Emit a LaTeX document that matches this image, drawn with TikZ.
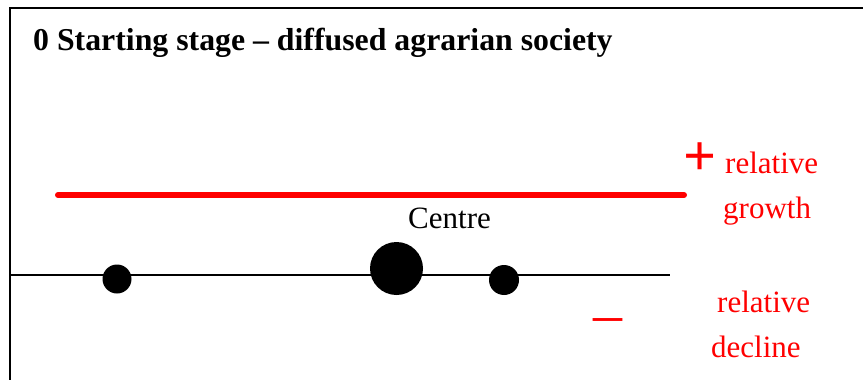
\documentclass[tikz,border=0pt]{standalone}
\usepackage{fontspec}
\setmainfont{Liberation Serif}

\begin{document}
\begin{tikzpicture}[x=1pt,y=-1pt,
  lbl/.style={inner sep=0pt,anchor=base west,font=\fontsize{31}{31}\selectfont},
  redlbl/.style={lbl,text=red},
  sign/.style={inner sep=0pt,text=red,font=\fontsize{58}{58}\selectfont},
  town/.style={circle,fill=black,inner sep=0pt}]
\useasboundingbox (0,0) rectangle (863,380);
\draw[line width=2pt] (10,380) -- (10,8) -- (863,8);
\node[lbl,font=\bfseries\fontsize{31.8}{31.8}\selectfont] (title) at (33,50) {0 Starting stage -- diffused agrarian society};
\coordinate (growL) at (58,195);
\coordinate (growR) at (684,195);
\draw[red,line width=6pt,line cap=round] (growL) -- (growR);
\coordinate (axisL) at (10,275);
\coordinate (axisR) at (670,275);
\draw[line width=1.6pt] (axisL) -- (axisR);
\node[town,minimum size=29pt] (west) at (117,279) {};
\node[town,minimum size=53pt] (centre) at (396.5,268.5) {};
\node[town,minimum size=30pt] (east) at (504,280) {};
\node[lbl] (centrelbl) at (408,228) {Centre};
\node[sign,font=\bfseries\fontsize{58}{58}\selectfont] (plus) at (700,159) {+};
\node[redlbl] (growth1) at (725,173) {relative};
\node[redlbl] (growth2) at (723,218) {growth};
\node[sign,anchor=base] (minus) at (608,333) {--};
\node[redlbl] (decline1) at (717,312) {relative};
\node[redlbl] (decline2) at (711,357) {decline};
\end{tikzpicture}
\end{document}
